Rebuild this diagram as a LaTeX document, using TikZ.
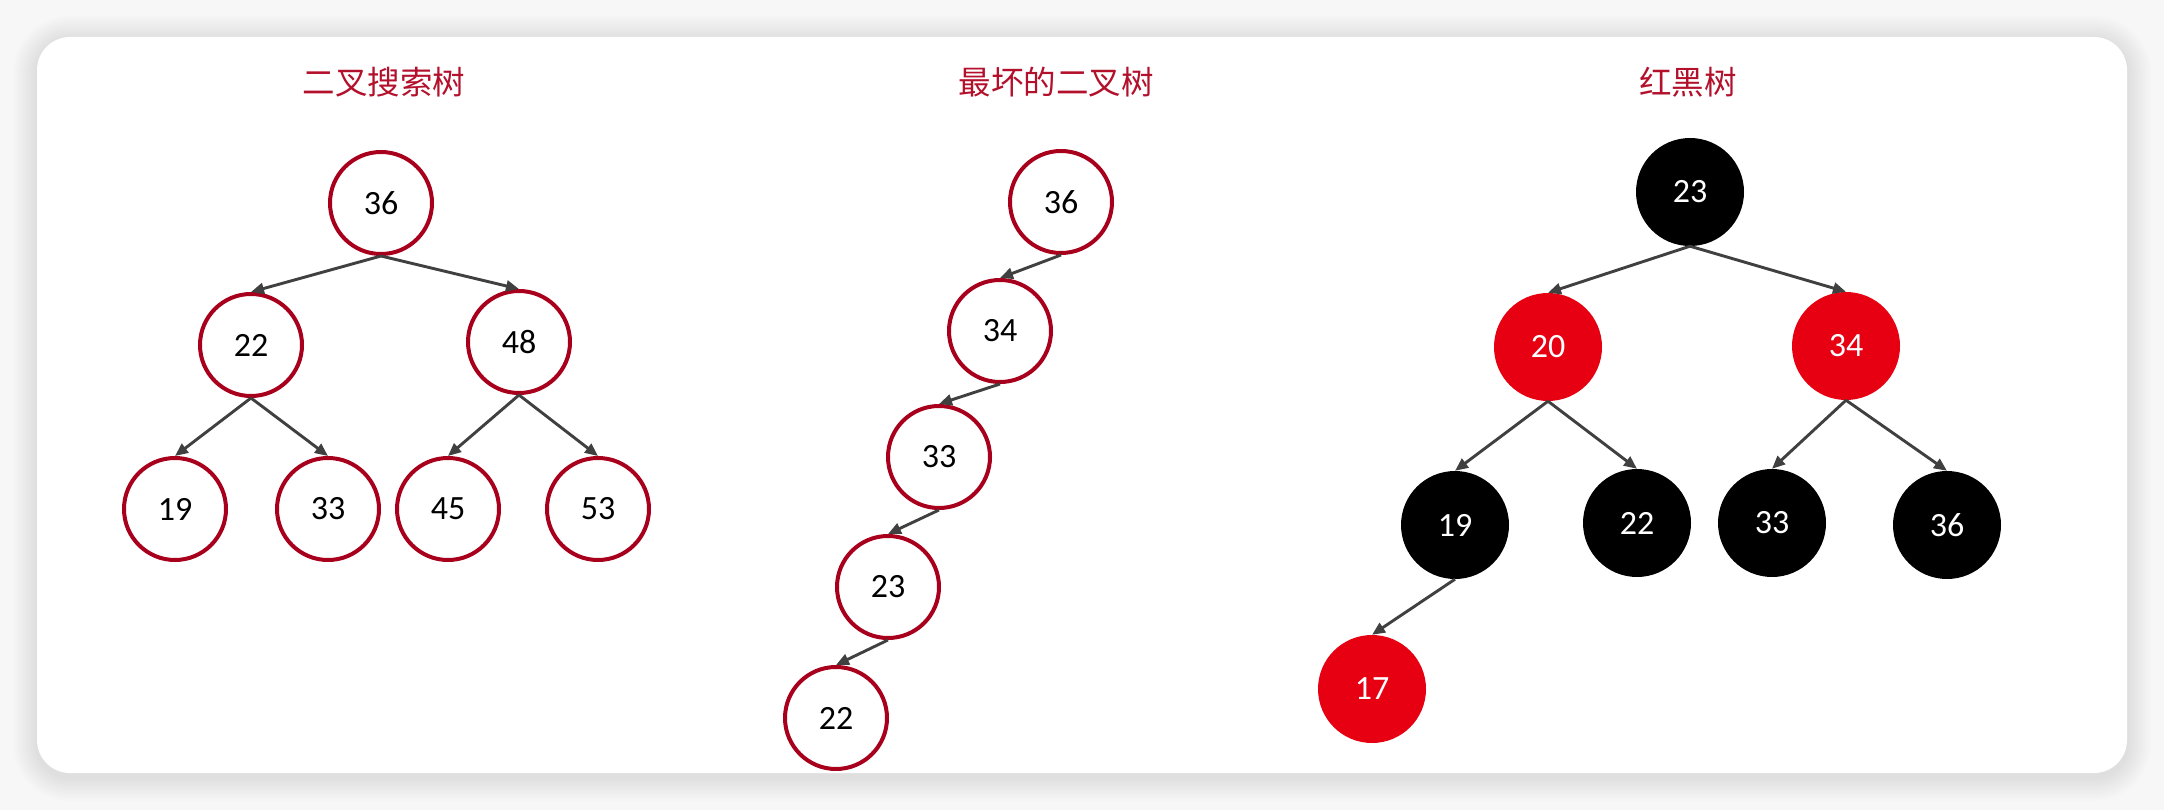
\documentclass[tikz,border=0pt]{standalone}
\usepackage{fontspec}
\setmainfont{Carlito}
\newfontfamily\cjk{Noto Sans CJK SC}
\usetikzlibrary{arrows.meta}
\definecolor{bstred}{HTML}{A8001C}
\definecolor{titlered}{HTML}{B3102C}
\definecolor{rbred}{HTML}{E60012}
\definecolor{edgegray}{HTML}{404040}
\definecolor{bgcol}{HTML}{F7F7F7}
\begin{document}
\begin{tikzpicture}[x=1pt,y=-1pt,
  bst/.style={circle,draw=bstred,line width=4pt,fill=white,minimum size=102pt,inner sep=0pt,font=\fontsize{34}{40}\selectfont},
  worst/.style={bst},
  rbblack/.style={circle,fill=black,minimum size=108pt,inner sep=0pt,text=white,font=\fontsize{34}{40}\selectfont},
  rbredn/.style={rbblack,fill=rbred},
  ttl/.style={text=titlered,font=\cjk\fontsize{32.5}{38}\selectfont},
  arr/.style={draw=edgegray,line width=2.9pt,-{Triangle[length=13pt,width=11pt]}}
]
\useasboundingbox (0,0) rectangle (2164,810);
\fill[bgcol] (0,0) rectangle (2164,810);
% soft shadow of the card
\foreach \i in {1,...,12}{
  \pgfmathsetmacro\rr{33+2*\i}
  \fill[black,opacity=0.006,rounded corners=\rr pt] (37-2*\i,40-2*\i) rectangle (2127+2*\i,777+2*\i);
}
\fill[white,rounded corners=33pt] (37,37) rectangle (2127,773);

% titles
\node[ttl] (t1) at (384,82) {二叉搜索树};
\node[ttl] (t2) at (1056,82) {最坏的二叉树};
\node[ttl] (t3) at (1688,82) {红黑树};

% binary search tree
\node[bst] (a36) at (381,203) {36};
\node[bst] (a22) at (251,345) {22};
\node[bst] (a48) at (519,342) {48};
\node[bst] (a19) at (175,509) {19};
\node[bst] (a33) at (328,509) {33};
\node[bst] (a45) at (448,509) {45};
\node[bst] (a53) at (598,509) {53};
\draw[arr] (a36.south) -- (a22.north);
\draw[arr] (a36.south) -- (a48.north);
\draw[arr] (a22.south) -- (a19.north);
\draw[arr] (a22.south) -- (a33.north);
\draw[arr] (a48.south) -- (a45.north);
\draw[arr] (a48.south) -- (a53.north);

% worst case tree
\node[worst] (b36) at (1061,202) {36};
\node[worst] (b34) at (1000,331) {34};
\node[worst] (b33) at (939,457) {33};
\node[worst] (b23) at (888,587) {23};
\node[worst] (b22) at (836,718) {22};
\draw[arr] (b36.south) -- (b34.north);
\draw[arr] (b34.south) -- (b33.north);
\draw[arr] (b33.south) -- (b23.north);
\draw[arr] (b23.south) -- (b22.north);

% red-black tree
\node[rbblack] (c23) at (1690,192) {23};
\node[rbredn] (c20) at (1548,347) {20};
\node[rbredn] (c34) at (1846,346) {34};
\node[rbblack] (c19) at (1455,525) {19};
\node[rbblack] (c22) at (1637,523) {22};
\node[rbblack] (c33) at (1772,523) {33};
\node[rbblack] (c36) at (1947,525) {36};
\node[rbredn] (c17) at (1372,689) {17};
\draw[arr] (c23.south) -- (c20.north);
\draw[arr] (c23.south) -- (c34.north);
\draw[arr] (c20.south) -- (c19.north);
\draw[arr] (c20.south) -- (c22.north);
\draw[arr] (c34.south) -- (c33.north);
\draw[arr] (c34.south) -- (c36.north);
\draw[arr] (c19.south) -- (c17.north);
\end{tikzpicture}
\end{document}
